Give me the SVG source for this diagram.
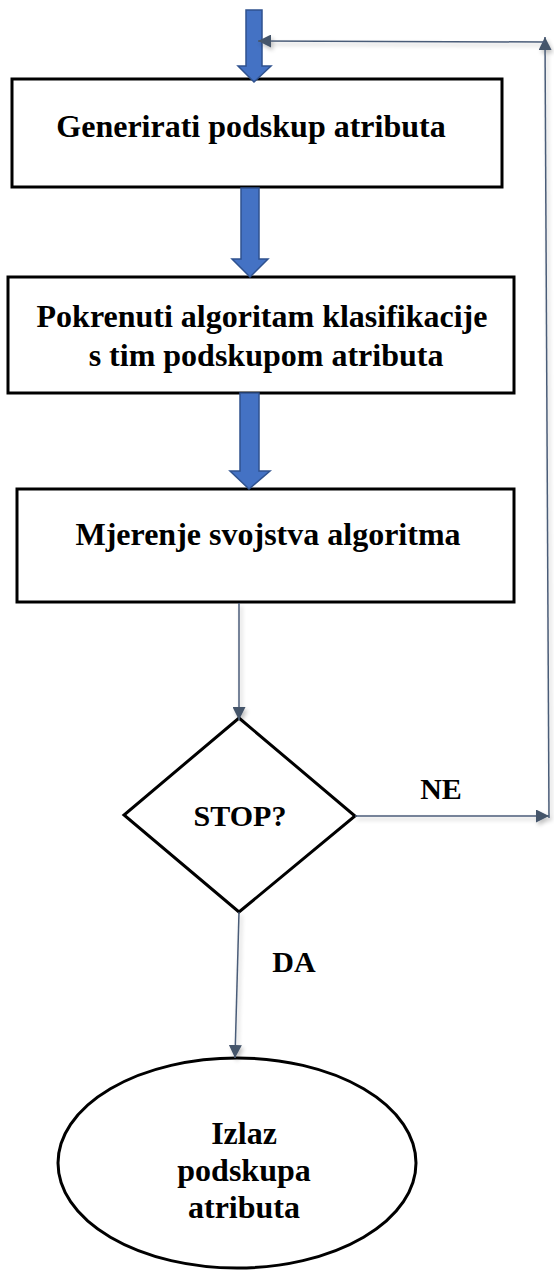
<svg xmlns="http://www.w3.org/2000/svg" width="554" height="1272" viewBox="0 0 554 1272">
<style>
.box{fill:#fff;stroke:#000;stroke-width:3}
.blk{fill:#4472C4;stroke:#2F528F;stroke-width:1.5}
.con{fill:none;stroke:#4A5C78;stroke-width:1.5}
.t{font-family:"Liberation Serif","Times New Roman",serif;font-weight:bold;font-size:32px;fill:#000;text-anchor:middle}
.lb{font-family:"Liberation Serif","Times New Roman",serif;font-weight:bold;font-size:30px;fill:#000;text-anchor:middle}
</style>
<defs>
<marker id="ah2" viewBox="0 0 10 10" refX="10" refY="5" markerWidth="13" markerHeight="13" markerUnits="userSpaceOnUse" orient="auto">
<path d="M0,0 L10,5 L0,10 z" fill="#44546A"/>
</marker>
<filter id="sh" x="-20%" y="-20%" width="140%" height="140%">
<feGaussianBlur in="SourceAlpha" stdDeviation="2"/>
<feOffset dx="2" dy="3" result="b"/>
<feComponentTransfer><feFuncA type="linear" slope="0.25"/></feComponentTransfer>
<feMerge><feMergeNode/><feMergeNode in="SourceGraphic"/></feMerge>
</filter>
</defs>

<g id="n1">
<rect class="box" x="12" y="79" width="490" height="108"/>
<text class="t" x="251" y="137">Generirati podskup atributa</text>
</g>
<g id="n2">
<rect class="box" x="8" y="277" width="506" height="116"/>
<text class="t" x="262" y="327">Pokrenuti algoritam klasifikacije</text>
<text class="t" x="266" y="366">s tim podskupom atributa</text>
</g>
<g id="n3">
<rect class="box" x="17" y="489" width="497" height="113"/>
<text class="t" x="268" y="545">Mjerenje svojstva algoritma</text>
</g>
<g id="n4">
<path class="box" d="M239,718 L355,816 L239,912 L124,815 Z"/>
<text class="lb" x="240" y="826">STOP?</text>
</g>
<g id="n5">
<ellipse class="box" cx="237" cy="1163" rx="179" ry="105"/>
<text class="t" x="244" y="1144">Izlaz</text>
<text class="t" x="244" y="1181">podskupa</text>
<text class="t" x="244" y="1218">atributa</text>
</g>

<g id="connectors">
<path class="blk" d="M246,10 L262,10 L262,66 L271,66 L254,82 L238,66 L246,66 Z"/>
<path class="blk" d="M241,188 L259,188 L259,259 L268,259 L250,277 L232,259 L241,259 Z"/>
<path class="blk" d="M240,393 L259,393 L259,471 L270,471 L249,489 L230,471 L240,471 Z"/>
<g filter="url(#sh)">
<line class="con" x1="239" y1="603" x2="239" y2="720" marker-end="url(#ah2)"/>
<line class="con" x1="239" y1="912" x2="235" y2="1058" marker-end="url(#ah2)"/>
<line class="con" x1="355" y1="816" x2="549" y2="816" marker-end="url(#ah2)"/>
<line class="con" x1="549" y1="818" x2="545" y2="37" marker-end="url(#ah2)"/>
<line class="con" x1="545" y1="42" x2="258" y2="41" marker-end="url(#ah2)"/>
</g>
<text class="lb" x="441" y="799">NE</text>
<text class="lb" x="294" y="972">DA</text>
</g>
</svg>
